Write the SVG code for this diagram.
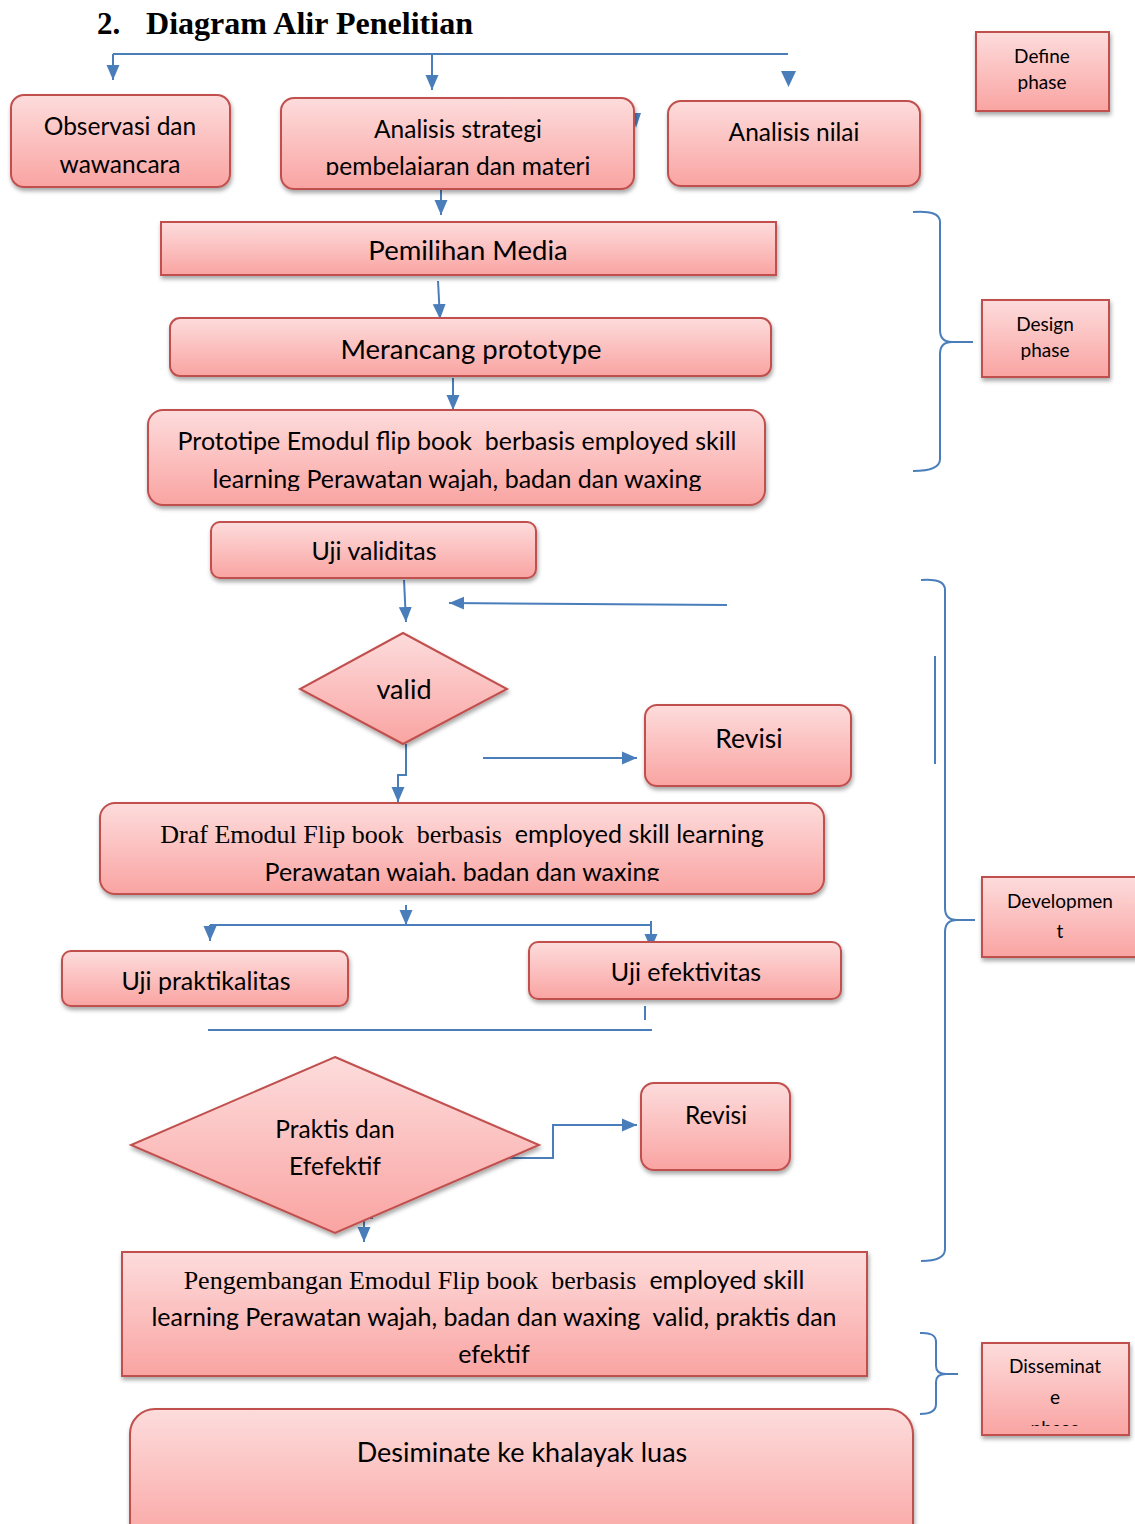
<svg xmlns="http://www.w3.org/2000/svg" width="1135" height="1524" viewBox="0 0 1135 1524">
<style>
text{white-space:pre}
.box{fill:url(#g);stroke:#c0504d;stroke-width:2;filter:url(#sh)}
.t{font-family:Lato,"Liberation Sans",sans-serif;fill:#000;text-anchor:middle}
.tm{font-family:"Liberation Serif",serif;fill:#000}
.c{fill:none;stroke:#4a7ebb;stroke-width:2}
.ah{fill:#4a7ebb}
</style>
<defs>
<linearGradient id="g" x1="0" y1="0" x2="0" y2="1">
<stop offset="0" stop-color="#fddcdc"/>
<stop offset="1" stop-color="#f9a4a2"/>
</linearGradient>
<filter id="sh" x="-10%" y="-10%" width="120%" height="130%">
<feDropShadow dx="1" dy="3" stdDeviation="2" flood-color="#000" flood-opacity="0.35"/>
</filter>
<marker id="a" markerWidth="16" markerHeight="16" refX="15" refY="8" orient="auto" markerUnits="userSpaceOnUse">
<path d="M0,1.5 L15,8 L0,14.5 Z" fill="#4a7ebb"/>
</marker>
<clipPath id="c1"><rect x="281" y="98" width="353" height="77"/></clipPath>
<clipPath id="c2"><rect x="148" y="410" width="617" height="81"/></clipPath>
<clipPath id="c3"><rect x="100" y="803" width="724" height="78"/></clipPath>
<clipPath id="c4"><rect x="982" y="1343" width="147" height="83"/></clipPath>
</defs>
<rect width="1135" height="1524" fill="#fff"/>

<text x="97" y="34" font-family="Liberation Serif,serif" font-weight="bold" font-size="31">2.</text>
<text x="146" y="34" font-family="Liberation Serif,serif" font-weight="bold" font-size="31" textLength="327" lengthAdjust="spacingAndGlyphs">Diagram Alir Penelitian</text>

<g id="connectors">
<path class="c" d="M113,54 H788"/>
<path class="c" d="M113,54 V80" marker-end="url(#a)"/>
<path class="c" d="M432,54 V90" marker-end="url(#a)"/>
<path class="ah" d="M781,71 L796,71 L788.5,87 Z"/>
<path class="ah" d="M632,113 L641,113 L636,128 Z"/>
<path class="c" d="M441,170 V215" marker-end="url(#a)"/>
<path class="c" d="M438,281 L440,319" marker-end="url(#a)"/>
<path class="c" d="M453,378 V410" marker-end="url(#a)"/>
<path class="c" d="M404,580 L406,622" marker-end="url(#a)"/>
<path class="c" d="M727,605 L449,603" marker-end="url(#a)"/>
<path class="c" d="M406,744 V775 H398 V802" marker-end="url(#a)"/>
<path class="c" d="M483,758 H637" marker-end="url(#a)"/>
<path class="c" d="M406,905 V925" marker-end="url(#a)"/>
<path class="c" d="M210,925 H651"/>
<path class="c" d="M210,925 V941" marker-end="url(#a)"/>
<path class="c" d="M651,921 V949" marker-end="url(#a)"/>
<path class="c" d="M645,1006 V1020"/>
<path class="c" d="M208,1030 H652"/>
<path class="c" d="M471,1158 H553 V1125 H637" marker-end="url(#a)"/>
<path class="c" d="M372,1193 V1218 H364 V1242" marker-end="url(#a)"/>
<path class="c" d="M913,212 Q940,210 940,222 V330 Q940,342 952,342 H973 M952,342 Q940,342 940,354 V459 Q940,471 913,471"/>
<path class="c" d="M921,580 Q945,578 945,590 V908 Q945,920 957,920 H975 M957,920 Q945,920 945,932 V1249 Q945,1261 921,1261"/>
<path class="c" d="M935,656 V764"/>
<path class="c" d="M920,1333 Q936,1332 936,1342 V1366 Q936,1374 946,1374 H958 M946,1374 Q936,1374 936,1382 V1404 Q936,1414 920,1414"/>
</g>

<g id="n-observasi">
<rect class="box" x="11" y="95" width="219" height="92" rx="13"/>
<text class="t" x="120" y="135" font-size="24.5">Observasi dan</text>
<text class="t" x="120" y="173" font-size="24.5">wawancara</text>
</g>
<g id="n-analisis-strategi">
<rect class="box" x="281" y="98" width="353" height="91" rx="13"/>
<g clip-path="url(#c1)">
<text class="t" x="458" y="138" font-size="24.5">Analisis strategi</text>
<text class="t" x="458" y="175" font-size="24.5">pembelajaran dan materi</text>
</g>
</g>
<g id="n-analisis-nilai">
<rect class="box" x="668" y="101" width="252" height="85" rx="13"/>
<text class="t" x="794" y="141" font-size="24.5">Analisis nilai</text>
</g>
<g id="n-define">
<rect class="box" x="976" y="32" width="133" height="79"/>
<text class="t" x="1042" y="63" font-size="19">Define</text>
<text class="t" x="1042" y="89" font-size="19">phase</text>
</g>
<g id="n-pemilihan">
<rect class="box" x="161" y="222" width="615" height="53"/>
<text class="t" x="468" y="260" font-size="27.5">Pemilihan Media</text>
</g>
<g id="n-merancang">
<rect class="box" x="170" y="318" width="601" height="58" rx="10"/>
<text class="t" x="471" y="359" font-size="27.5">Merancang prototype</text>
</g>
<g id="n-prototipe">
<rect class="box" x="148" y="410" width="617" height="95" rx="15"/>
<g clip-path="url(#c2)">
<text class="t" x="457" y="450" font-size="25">Prototipe Emodul flip book  berbasis employed skill</text>
<text class="t" x="457" y="488" font-size="25">learning Perawatan wajah, badan dan waxing</text>
</g>
</g>
<g id="n-design">
<rect class="box" x="982" y="300" width="127" height="77"/>
<text class="t" x="1045" y="331" font-size="19">Design</text>
<text class="t" x="1045" y="357" font-size="19">phase</text>
</g>
<g id="n-uji-validitas">
<rect class="box" x="211" y="522" width="325" height="56" rx="9"/>
<text class="t" x="374" y="560" font-size="25">Uji validitas</text>
</g>
<g id="n-valid">
<polygon class="box" points="403,633 507,689 403,744 300,689"/>
<text class="t" x="404" y="699" font-size="27">valid</text>
</g>
<g id="n-revisi1">
<rect class="box" x="645" y="705" width="206" height="81" rx="12"/>
<text class="t" x="749" y="748" font-size="26.5">Revisi</text>
</g>
<g id="n-development">
<rect class="box" x="982" y="877" width="160" height="80"/>
<text class="t" x="1060" y="908" font-size="19">Developmen</text>
<text class="t" x="1060" y="938" font-size="19">t</text>
</g>
<g id="n-draf">
<rect class="box" x="100" y="803" width="724" height="91" rx="15"/>
<g clip-path="url(#c3)">
<text x="462" y="843" font-size="25" text-anchor="middle"><tspan class="tm" font-size="26">Draf Emodul Flip book  berbasis  </tspan><tspan font-family="Lato,'Liberation Sans',sans-serif">employed skill learning</tspan></text>
<text class="t" x="462" y="881" font-size="25">Perawatan wajah, badan dan waxing</text>
</g>
</g>
<g id="n-uji-praktikalitas">
<rect class="box" x="62" y="951" width="286" height="55" rx="9"/>
<text class="t" x="206" y="990" font-size="25">Uji praktikalitas</text>
</g>
<g id="n-uji-efektivitas">
<rect class="box" x="529" y="942" width="312" height="57" rx="9"/>
<text class="t" x="686" y="981" font-size="25">Uji efektivitas</text>
</g>
<g id="n-praktis">
<polygon class="box" points="335,1057 539,1145 335,1233 131,1145"/>
<text class="t" x="335" y="1138" font-size="24.5">Praktis dan</text>
<text class="t" x="335" y="1175" font-size="24.5">Efefektif</text>
</g>
<g id="n-revisi2">
<rect class="box" x="641" y="1083" width="149" height="87" rx="13"/>
<text class="t" x="716" y="1124" font-size="24.5">Revisi</text>
</g>
<g id="n-pengembangan">
<rect class="box" x="122" y="1252" width="745" height="124"/>
<text x="494" y="1289" font-size="25" text-anchor="middle"><tspan class="tm" font-size="26">Pengembangan Emodul Flip book  berbasis  </tspan><tspan font-family="Lato,'Liberation Sans',sans-serif">employed skill</tspan></text>
<text class="t" x="494" y="1326" font-size="25">learning Perawatan wajah, badan dan waxing  valid, praktis dan</text>
<text class="t" x="494" y="1363" font-size="25">efektif</text>
</g>
<g id="n-disseminate">
<rect class="box" x="982" y="1343" width="147" height="92"/>
<g clip-path="url(#c4)">
<text class="t" x="1055" y="1373" font-size="19">Disseminat</text>
<text class="t" x="1055" y="1404" font-size="19">e</text>
<text class="t" x="1055" y="1435" font-size="19">phase</text>
</g>
</g>
<g id="n-desiminate">
<rect class="box" x="130" y="1409" width="783" height="140" rx="25"/>
<text class="t" x="522" y="1462" font-size="27">Desiminate ke khalayak luas</text>
</g>
</svg>
